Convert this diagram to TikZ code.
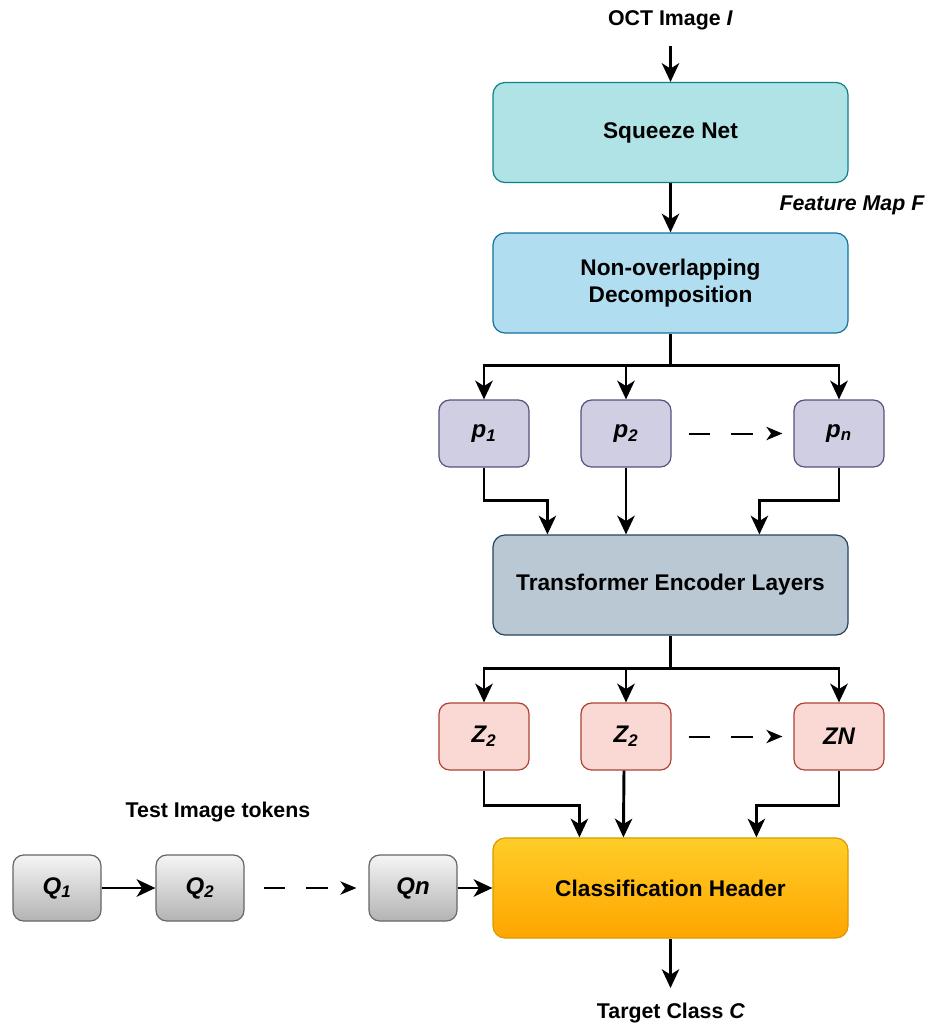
\documentclass[tikz,border=0pt]{standalone}
\usepackage{fontspec}
\setmainfont{Liberation Sans}
\usetikzlibrary{arrows.meta,calc,shadings}

\definecolor{sqfill}{HTML}{B0E3E6}\definecolor{sqline}{HTML}{0E8088}
\definecolor{dcfill}{HTML}{B1DDF0}\definecolor{dcline}{HTML}{10739E}
\definecolor{pfill}{HTML}{D0CEE2}\definecolor{pline}{HTML}{56517E}
\definecolor{trfill}{HTML}{BAC8D3}\definecolor{trline}{HTML}{23445D}
\definecolor{zfill}{HTML}{FAD9D5}\definecolor{zline}{HTML}{AE4132}
\definecolor{clstop}{HTML}{FFCD28}\definecolor{clsbot}{HTML}{FFA500}\definecolor{clsline}{HTML}{D79B00}
\definecolor{qtop}{HTML}{F5F5F5}\definecolor{qbot}{HTML}{B3B3B3}\definecolor{qline}{HTML}{666666}

\begin{document}
\begin{tikzpicture}[x=0.75pt,y=-0.75pt,
  box/.style={draw, rounded corners=9pt, line width=0.9pt, align=center,
              font=\fontsize{17}{20}\selectfont\bfseries, inner sep=0pt},
  wide/.style={box, minimum width=266.25pt, minimum height=75pt},
  tok/.style={box, minimum width=67.5pt, minimum height=50.25pt, rounded corners=8pt,
              font=\fontsize{18}{20}\selectfont\bfseries\itshape},
  qtok/.style={box, minimum width=66pt, minimum height=49.5pt, rounded corners=8pt,
              top color=qtop, bottom color=qbot, draw=qline,
              font=\fontsize{18}{20}\selectfont\bfseries\itshape},
  link/.style={line width=2.2pt},
  arr/.style={link, -{Stealth[length=14pt,width=13pt,inset=4pt]}},
  dash arrow/.style={line width=1.5pt, dash pattern=on 16pt off 16pt,
              -{Stealth[length=12pt,width=10pt,inset=3.5pt]}},
  lbl/.style={font=\fontsize{16}{19}\selectfont\bfseries}
]
\useasboundingbox (0,0) rectangle (936,1026);

% main column
\node[wide, fill=sqfill, draw=sqline] (sq) at (670.5,132.5) {Squeeze Net};
\node[wide, fill=dcfill, draw=dcline] (dc) at (670.5,283) {Non-overlapping\\Decomposition};
\node[wide, fill=trfill, draw=trline] (tr) at (670.5,585) {Transformer Encoder Layers};
\node[wide, top color=clstop, bottom color=clsbot, draw=clsline] (cls) at (670.5,888) {Classification Header};

% patch tokens
\node[tok, fill=pfill, draw=pline] (p1) at (484,433.5) {p\textsubscript{1}};
\node[tok, fill=pfill, draw=pline] (p2) at (626,433.5) {p\textsubscript{2}};
\node[tok, fill=pfill, draw=pline] (pn) at (839,433.5) {p\textsubscript{n}};

% encoded tokens
\node[tok, fill=zfill, draw=zline] (z1) at (484,736.5) {Z\textsubscript{2}};
\node[tok, fill=zfill, draw=zline] (z2) at (626,736.5) {Z\textsubscript{2}};
\node[tok, fill=zfill, draw=zline] (zn) at (839,736.5) {ZN};

% test image tokens
\node[qtok] (q1) at (57,888) {Q\textsubscript{1}};
\node[qtok] (q2) at (200,888) {Q\textsubscript{2}};
\node[qtok] (qn) at (413,888) {Qn};

% labels
\node[lbl] (oct) at (670.5,20) {OCT Image \textit{I}};
\node[lbl, font=\fontsize{16}{19}\selectfont\bfseries\itshape] (fmap) at (852,205) {Feature Map F};
\node[lbl] (tgt) at (671,1013) {Target Class \textit{C}};
\node[lbl] (tit) at (218,812) {Test Image tokens};

\coordinate (in) at (670.5,46);
\coordinate (out) at (670.5,988);

% vertical flow
\draw[arr] (in) -- (sq.north);
\draw[arr] (sq.south) -- (dc.north);
\draw[arr] (cls.south) -- (out);

% decomposition into patches
\coordinate (s1) at ($(dc.south)+(0,32)$);
\draw[arr] (dc.south) -- (s1) -| (p1.north);
\draw[arr] (s1) -| (pn.north);
\draw[arr] (s1 -| p2.north) -- (p2.north);
\draw[dash arrow] ($(p2.east)+(17,0)$) -- ($(pn.west)+(-11,0)$);

% patches into encoder
\draw[arr] (p1.south) -- ++(0,33) -| ($(tr.north west)+(55,0)$);
\draw[arr] (p2.south) -- (p2.south |- tr.north);
\draw[arr] (pn.south) -- ++(0,33) -| ($(tr.north west)+(267,0)$);

% encoder outputs
\coordinate (s2) at ($(tr.south)+(0,33)$);
\draw[arr] (tr.south) -- (s2) -| (z1.north);
\draw[arr] (s2) -| (zn.north);
\draw[arr] (s2 -| z2.north) -- (z2.north);
\draw[dash arrow] ($(z2.east)+(17,0)$) -- ($(zn.west)+(-11,0)$);

% encoded tokens into classifier
\draw[arr] (z1.south) -- ++(0,35) -| ($(cls.north west)+(87,0)$);
\draw[arr] ($(z2.south)+(-2,0)$) -- ($(cls.north west)+(131,0)$);
\draw[arr] (zn.south) -- ++(0,35) -| ($(cls.north west)+(264,0)$);

% test tokens into classifier
\draw[arr] (q1.east) -- (q2.west);
\draw[dash arrow] ($(q2.east)+(19,0)$) -- ($(qn.west)+(-12,0)$);
\draw[arr] (qn.east) -- (qn.east -| cls.west);
\end{tikzpicture}
\end{document}
